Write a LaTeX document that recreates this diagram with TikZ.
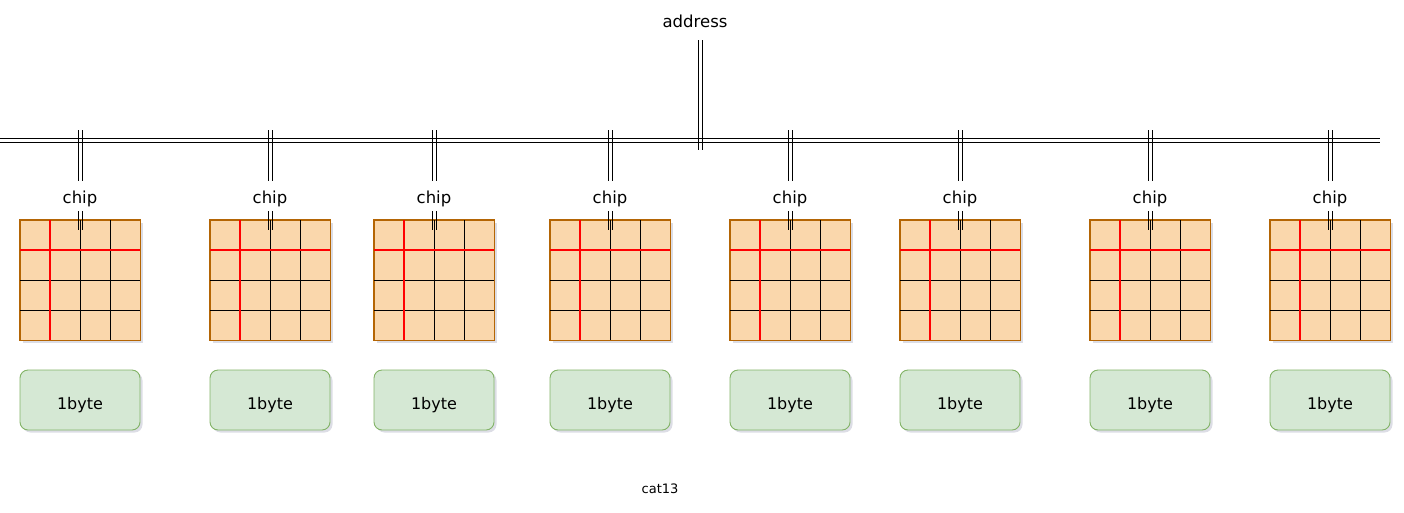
\documentclass[tikz,border=0pt]{standalone}
\usepackage{fontspec}
\setmainfont{DejaVu Sans}
\usetikzlibrary{shadows}
\definecolor{gridfill}{HTML}{FAD7AC}
\definecolor{gridline}{HTML}{B46504}
\definecolor{bytefill}{HTML}{D5E8D4}
\definecolor{byteline}{HTML}{82B366}
\definecolor{shade}{HTML}{8A8FA8}
\begin{document}
\begin{tikzpicture}[x=1pt,y=-1pt,
  vdbl/.style={preaction={draw=black, line width=0.9pt, transform canvas={xshift=-2pt}},
               postaction={draw=black, line width=0.9pt, transform canvas={xshift=2pt}}},
  hdbl/.style={preaction={draw=black, line width=0.9pt, transform canvas={yshift=2pt}},
               postaction={draw=black, line width=0.9pt, transform canvas={yshift=-2pt}}},
  gridbox/.style={draw=gridline, line width=0.9pt, fill=gridfill, minimum width=120pt, minimum height=120pt, inner sep=0pt,
     drop shadow={fill=shade, opacity=0.3, shadow xshift=2.5pt, shadow yshift=-2.5pt}},
  cell/.style={line width=0.7pt, black},
  redline/.style={line width=1.6pt, red},
  bytebox/.style={draw=byteline, line width=0.9pt, fill=bytefill, rounded corners=8pt, minimum width=120pt, minimum height=60pt,
     inner sep=0pt, text height=18pt, text depth=0pt, font=\fontsize{16}{19}\selectfont,
     drop shadow={fill=shade, opacity=0.3, shadow xshift=2.5pt, shadow yshift=-2.5pt}},
  lbl/.style={fill=white, inner sep=0pt, minimum height=30pt, minimum width=36pt,
     text height=15pt, text depth=0pt, font=\fontsize{16.5}{19}\selectfont},
  note/.style={inner sep=1pt, font=\fontsize{13}{15}\selectfont}
]
\useasboundingbox (0,0) rectangle (1404,512);

% bus
\coordinate (busL) at (0,140);
\coordinate (busR) at (1380,140);
\path[hdbl] (busL) -- (busR);

% address
\node[note, font=\fontsize{16.5}{19}\selectfont] (addr) at (695,21) {address};
\coordinate (addrT) at (700,40);
\coordinate (addrB) at (700,150);
\path[vdbl] (addrT) -- (addrB);

\foreach \x [count=\i] in {80,270,434,610,790,960,1150,1330} {
  % memory grid
  \node[gridbox] (g\i) at (\x,280) {};
  \foreach \k in {1,2,3} {
    \draw[cell] (\x-60+30*\k,220) -- (\x-60+30*\k,340);
    \draw[cell] (\x-60,220+30*\k) -- (\x+60,220+30*\k);
  }
  \draw[redline] (\x-30,220) -- (\x-30,340);
  \draw[redline] (\x-60,250) -- (\x+60,250);
  \draw[draw=gridline, line width=0.9pt] (g\i.north west) rectangle (g\i.south east);
  % chip label and connector
  \node[lbl] (c\i) at (\x,196) {chip};
  \coordinate (t\i) at (\x,130);
  \coordinate (e\i) at (\x,230);
  \path[vdbl] (t\i) -- (c\i.north);
  \path[vdbl] (c\i.south) -- (e\i);
  % byte box
  \node[bytebox] (b\i) at (\x,400) {1byte};
}

\node[note] (cat) at (660,489) {cat13};
\end{tikzpicture}
\end{document}
